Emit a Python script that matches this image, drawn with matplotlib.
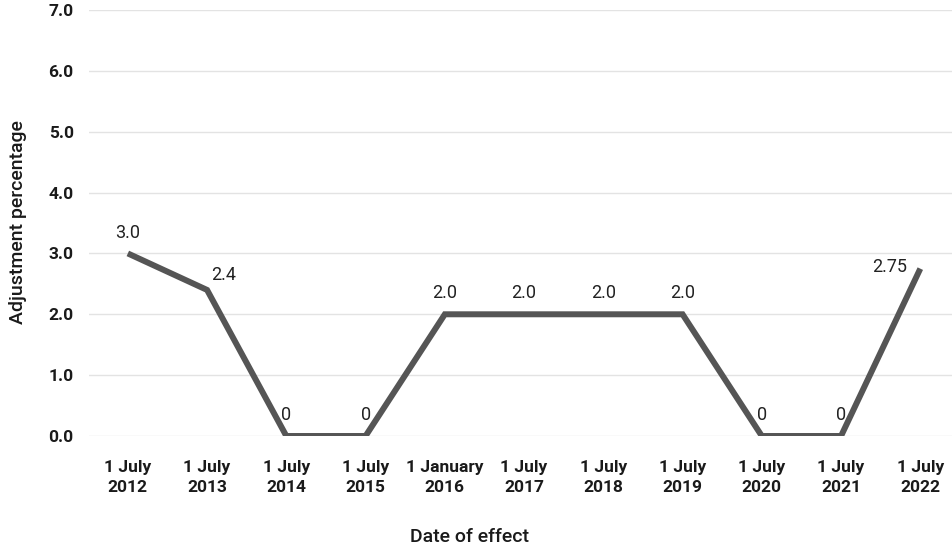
import matplotlib
matplotlib.use("Agg")
import matplotlib.pyplot as plt

# Indexation adjustments by date of effect
dates = ["1 July\n2012", "1 July\n2013", "1 July\n2014", "1 July\n2015",
         "1 January\n2016", "1 July\n2017", "1 July\n2018", "1 July\n2019",
         "1 July\n2020", "1 July\n2021", "1 July\n2022"]
adjustment = [3.0, 2.4, 0, 0, 2.0, 2.0, 2.0, 2.0, 0, 0, 2.75]
value_labels = ["3.0", "2.4", "0", "0", "2.0", "2.0", "2.0", "2.0", "0", "0", "2.75"]
y_ticks = [0, 1, 2, 3, 4, 5, 6, 7]

plt.rcParams["font.family"] = ["Roboto", "DejaVu Sans"]

fig = plt.figure(figsize=(9.52, 5.49), dpi=100)
ax = fig.add_axes([89 / 952, 1 - 436 / 549, 1 - 89 / 952, 426 / 549])

x = list(range(len(dates)))
ax.plot(x, adjustment, color="#555555", linewidth=4.3, solid_joinstyle="miter",
        solid_capstyle="butt", zorder=3)

ax.set_ylim(0, 7)
ax.set_xlim(-0.49, 10.4)
ax.set_yticks(y_ticks)
ax.set_yticklabels([f"{v:.1f}" for v in y_ticks], fontsize=12.5, fontweight="bold",
                   color="#1a1a1a")
ax.set_xticks(x)
ax.set_xticklabels(dates, fontsize=12.5, fontweight="bold", color="#1a1a1a",
                   linespacing=1.45)
ax.tick_params(axis="both", length=0)
ax.tick_params(axis="y", pad=11)
ax.tick_params(axis="x", pad=17)
ax.grid(axis="y", color="#e3e3e3", linewidth=1)
ax.set_axisbelow(True)
for s in ax.spines.values():
    s.set_visible(False)

# Value annotations
offsets = {1: (12, 4), 10: (-22, 1)}
for i, (v, lab) in enumerate(zip(adjustment, value_labels)):
    dx, dy = offsets.get(i, (0, 8.5))
    ax.annotate(lab, (i, v), xytext=(dx, dy), textcoords="offset points",
                ha="center", va="bottom" if i != 10 else "center",
                fontsize=13, color="#222222", fontweight="normal")

fig.text(18 / 952, 1 - 222 / 549, "Adjustment percentage", rotation=90,
         ha="center", va="center", fontsize=14, color="#1a1a1a", fontweight="medium")
fig.text(469 / 952, 1 - 537 / 549, "Date of effect", ha="center", va="center",
         fontsize=14, color="#1a1a1a", fontweight="medium")

fig.savefig("out.png", dpi=100)
